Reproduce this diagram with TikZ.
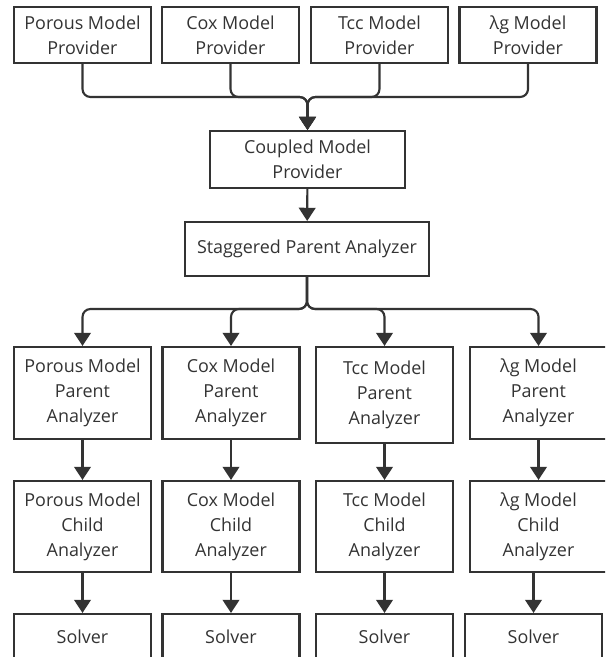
\documentclass[tikz,border=0pt]{standalone}
\usepackage{fontspec}
\setmainfont{Open Sans}
\usetikzlibrary{arrows.meta}
\definecolor{trait}{HTML}{333333}

\begin{document}
\begin{tikzpicture}[
  boite/.style={draw=trait,line width=1.2pt,text=trait,align=center,inner sep=0pt,
    minimum width=2.74cm,minimum height=1.12cm,font=\fontsize{10.2}{14.2}\selectfont},
  fleche/.style={draw=trait,line width=1.2pt,rounded corners=4.5pt,
    -{Triangle[width=9.5pt,length=7.5pt]}}]
  \clip (0,0) rectangle (12.1,-13.14);
  % Fournisseurs
  \node[boite] (pPor) at (1.65,-0.70) {Porous Model\\Provider};
  \node[boite] (pCox) at (4.61,-0.70) {Cox Model\\Provider};
  \node[boite] (pTcc) at (7.59,-0.70) {Tcc Model\\Provider};
  \node[boite] (pLam) at (10.56,-0.70) {λg Model\\Provider};
  \coordinate (fusion) at (6.15,-1.94);
  \node[boite,minimum width=3.9cm,minimum height=1.14cm] (coupl) at (6.15,-3.19) {Coupled Model\\Provider};
  \foreach \n in {pPor,pCox,pTcc,pLam}
    \draw[fleche] (\n.south) |- (fusion) -- (coupl.north);
  % Analyseur
  \node[boite,minimum width=4.88cm,minimum height=1.08cm] (stag) at (6.14,-4.98) {Staggered Parent Analyzer};
  \draw[fleche] (coupl) -- (stag);
  \coordinate (partage) at (6.14,-6.18);
  % Parents
  \node[boite,minimum height=1.84cm] (aPor) at (1.65,-7.86) {Porous Model\\Parent\\Analyzer};
  \node[boite,minimum height=1.84cm] (aCox) at (4.62,-7.86) {Cox Model\\Parent\\Analyzer};
  \node[boite,minimum height=1.92cm] (aTcc) at (7.69,-7.90) {Tcc Model\\Parent\\Analyzer};
  \node[boite,minimum height=1.84cm] (aLam) at (10.77,-7.86) {λg Model\\Parent\\Analyzer};
  \foreach \n in {aPor,aCox,aTcc,aLam}
    \draw[fleche] (stag.south) -- (partage) -| (\n.north);
  % Enfants
  \node[boite,minimum height=1.82cm] (ePor) at (1.65,-10.53) {Porous Model\\Child\\Analyzer};
  \node[boite,minimum height=1.82cm] (eCox) at (4.62,-10.53) {Cox Model\\Child\\Analyzer};
  \node[boite,minimum height=1.82cm] (eTcc) at (7.69,-10.53) {Tcc Model\\Child\\Analyzer};
  \node[boite,minimum height=1.82cm] (eLam) at (10.77,-10.53) {λg Model\\Child\\Analyzer};
  % Solveurs
  \node[boite,minimum height=0.92cm] (sPor) at (1.65,-12.74) {Solver};
  \node[boite,minimum height=0.92cm] (sCox) at (4.62,-12.74) {Solver};
  \node[boite,minimum height=0.92cm] (sTcc) at (7.69,-12.74) {Solver};
  \node[boite,minimum height=0.92cm] (sLam) at (10.67,-12.74) {Solver};
  \foreach \n in {Por,Cox,Tcc,Lam} {
    \draw[fleche] (a\n) -- (e\n);
    \draw[fleche] (e\n.south -| s\n.north) -- (s\n.north);
  }
\end{tikzpicture}
\end{document}
